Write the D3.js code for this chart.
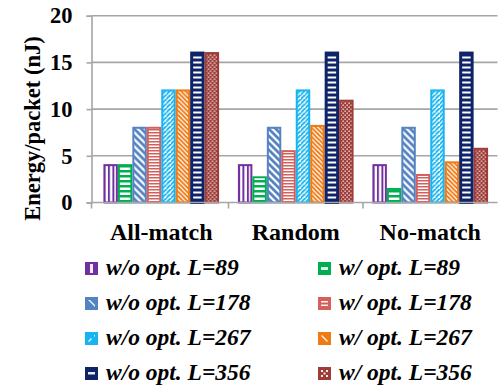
<!DOCTYPE html>
<html>
<head>
<meta charset="utf-8">
<script src="https://cdn.jsdelivr.net/npm/d3@7"></script>
<style>
  html, body { margin: 0; padding: 0; background: #fff; }
  svg { display: block; }
</style>
</head>
<body>
<div id="chart"></div>
<script>
// Energy per packet for each matching scenario, with and without the optimisation
const categories = ["All-match", "Random", "No-match"];
const seriesNames = [
  "w/o opt. L=89", "w/ opt. L=89",
  "w/o opt. L=178", "w/ opt. L=178",
  "w/o opt. L=267", "w/ opt. L=267",
  "w/o opt. L=356", "w/ opt. L=356"
];
const woL89  = [4, 4, 4];
const wL89   = [4, 2.7, 1.45];
const woL178 = [8, 8, 8];
const wL178  = [8, 5.5, 2.95];
const woL267 = [12, 12, 12];
const wL267  = [12, 8.2, 4.3];
const woL356 = [16, 16, 16];
const wL356  = [16, 10.9, 5.75];
const seriesValues = [woL89, wL89, woL178, wL178, woL267, wL267, woL356, wL356];
const yTicks = [0, 5, 10, 15, 20];
const yLabel = "Energy/packet (nJ)";

const W = 498, H = 388;
const FONT = '"Liberation Serif", "Times New Roman", serif';
const colors = ["#7030A0", "#00B050", "#5583C2", "#D45F5B", "#16B4F0", "#F07A14", "#0F2468", "#9E3C38"];
const strokeW = [2, 2, 2, 2, 2, 2, 3, 2];

const svg = d3.select("#chart").append("svg")
  .attr("width", W).attr("height", H);

const defs = svg.append("defs");

// Hatch fills, one per series
function pattern(id, w, h, build, bg) {
  const p = defs.append("pattern").attr("id", id)
    .attr("patternUnits", "userSpaceOnUse")
    .attr("width", w).attr("height", h);
  p.append("rect").attr("width", w).attr("height", h).attr("fill", bg || "#fff");
  build(p);
}
// vertical lines
pattern("p0", 4.5, 4, p => p.append("rect").attr("x", 0).attr("width", 2).attr("height", 4).attr("fill", colors[0]));
// wide horizontal lines
pattern("p1", 4, 5, p => p.append("rect").attr("y", 0).attr("width", 4).attr("height", 2.5).attr("fill", colors[1]));
// wide downward diagonal
pattern("p2", 7, 7, p => {
  p.append("path").attr("d", "M-1,-1 L8,8 M-8,-1 L1,8 M6,-1 L15,8")
    .attr("stroke", colors[2]).attr("stroke-width", 2.8);
});
// narrow horizontal lines
pattern("p3", 4, 3, p => p.append("rect").attr("width", 4).attr("height", 1.5).attr("fill", colors[3]));
// upward diagonal
pattern("p4", 4.5, 4.5, p => {
  p.append("path").attr("d", "M-1,5.5 L5.5,-1 M-5.5,5.5 L1,-1 M3.5,10 L10,3.5")
    .attr("stroke", colors[4]).attr("stroke-width", 1.9);
});
// downward diagonal
pattern("p5", 4.5, 4.5, p => {
  p.append("path").attr("d", "M-1,-1 L5.5,5.5 M-5.5,-1 L1,5.5 M3.5,-1 L10,5.5")
    .attr("stroke", colors[5]).attr("stroke-width", 1.9);
});
// dark horizontal dashes
pattern("p6", 4, 5, p => p.append("rect").attr("y", 1.5).attr("width", 4).attr("height", 2).attr("fill", "#fff"), colors[6]);
// dotted grid
pattern("p7", 4, 4, p => {
  p.append("rect").attr("x", 0.5).attr("y", 0.5).attr("width", 1.3).attr("height", 1.3).attr("fill", "#fff");
  p.append("rect").attr("x", 2.5).attr("y", 2.5).attr("width", 1.3).attr("height", 1.3).attr("fill", "#fff");
}, colors[7]);

const x0 = d3.scaleBand().domain(categories).range([94, 497.5]).paddingInner(0.14).paddingOuter(0.07);
const x1 = d3.scaleBand().domain(d3.range(seriesNames.length)).range([0, x0.bandwidth()]);
const y = d3.scaleLinear().domain([0, 20]).range([202.5, 15.7]);

const axisX = 91.5;
const gridColor = "#A6A6A6";

// gridlines
svg.append("g").selectAll("line").data(yTicks.filter(t => t > 0)).join("line")
  .attr("x1", axisX).attr("x2", 497.5)
  .attr("y1", d => y(d)).attr("y2", d => y(d))
  .attr("stroke", gridColor).attr("stroke-width", 1.6);

// y axis
const yAxis = svg.append("g").attr("transform", `translate(${axisX},0)`)
  .call(d3.axisLeft(y).tickValues(yTicks).tickSize(5).tickPadding(14).tickFormat(d3.format("d")));
yAxis.select(".domain").attr("stroke", gridColor).attr("stroke-width", 1.6);
yAxis.selectAll(".tick line").attr("stroke", gridColor).attr("stroke-width", 1.6);
yAxis.selectAll("text").attr("fill", "#000")
  .style("font-family", FONT).style("font-size", "22.5px").style("font-weight", "bold");

// bars
const groups = svg.append("g").selectAll("g").data(categories).join("g")
  .attr("transform", d => `translate(${x0(d)},0)`);
groups.selectAll("rect")
  .data((c, ci) => seriesValues.map((vals, si) => ({ si, v: vals[ci] })))
  .join("rect")
  .attr("x", d => x1(d.si) + strokeW[d.si] / 2)
  .attr("width", d => x1.bandwidth() - strokeW[d.si])
  .attr("y", d => y(d.v))
  .attr("height", d => y(0) - y(d.v))
  .attr("fill", d => `url(#p${d.si})`)
  .attr("stroke", d => colors[d.si])
  .attr("stroke-width", d => strokeW[d.si]);

// x axis baseline with ticks at group boundaries
const xAxis = svg.append("g").attr("transform", `translate(0,${y(0)})`);
xAxis.append("line").attr("x1", axisX).attr("x2", 497.5).attr("stroke", gridColor).attr("stroke-width", 1.6);
const bounds = categories.map(c => x0(c) - x0.step() * x0.paddingInner() / 2).slice(1);
xAxis.selectAll(".bt").data(bounds).join("line").attr("class", "bt")
  .attr("x1", d => d).attr("x2", d => d).attr("y1", 0).attr("y2", 6)
  .attr("stroke", gridColor).attr("stroke-width", 1.6);
xAxis.append("line").attr("x1", axisX).attr("x2", axisX).attr("y1", 0).attr("y2", 6)
  .attr("stroke", gridColor).attr("stroke-width", 1.6);
xAxis.selectAll("text").data(categories).join("text")
  .attr("x", d => x0(d) + x0.bandwidth() / 2)
  .attr("y", 37.5)
  .attr("text-anchor", "middle")
  .style("font-family", FONT).style("font-size", "24px").style("font-weight", "bold")
  .text(d => d);

// y axis title
svg.append("text")
  .attr("transform", `translate(39.5,128.5) rotate(-90)`)
  .attr("text-anchor", "middle")
  .style("font-family", FONT).style("font-size", "22.5px").style("font-weight", "bold")
  .text(yLabel);

// legend
const legend = svg.append("g");
const items = legend.selectAll("g").data(seriesNames).join("g")
  .attr("transform", (d, i) => `translate(${i % 2 === 0 ? 85 : 318},${275 + Math.floor(i / 2) * 35})`);
items.append("rect")
  .attr("x", 0).attr("y", -13).attr("width", 13).attr("height", 13)
  .attr("fill", (d, i) => colors[i]);
// small white marks inside the swatches
const glyphs = [
  "M5,-11 h3 v9 h-3 z",
  "M3,-8 h7 v3 h-7 z",
  "M3,-10 L10,-3 L10,-5 L5,-10 z",
  "M3,-9 h7 v1.6 h-7 z M3,-5.5 h7 v1.6 h-7 z",
  "M9,-10 L10,-10 L10,-9 L9,-8 z M3,-4 L6,-7 L7,-6 L4,-3 z",
  "M4,-10 L10,-4 L9,-3 L3,-9 z",
  "M3,-8 h7 v2.5 h-7 z",
  "M3,-10 h2 v2 h-2 z M8,-10 h2 v2 h-2 z M5.5,-7.5 h2 v2 h-2 z M3,-5 h2 v2 h-2 z M8,-5 h2 v2 h-2 z"
];
items.append("path").attr("d", (d, i) => glyphs[i]).attr("fill", "#fff").attr("opacity", 0.9);
items.append("text")
  .attr("x", 21).attr("y", 0)
  .style("font-family", FONT).style("font-size", "23.5px")
  .style("font-weight", "bold").style("font-style", "italic")
  .text(d => d);
</script>
</body>
</html>
